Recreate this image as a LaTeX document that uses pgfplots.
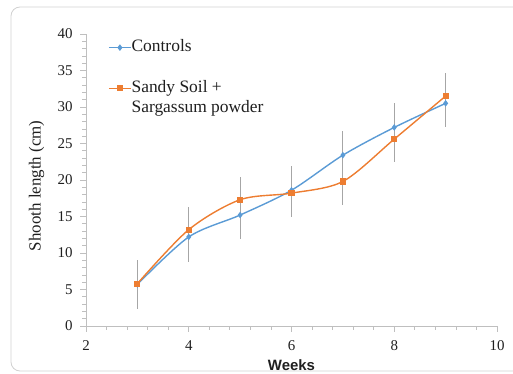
\documentclass[border=0pt]{standalone}
\usepackage{pgfplots}
\pgfplotsset{compat=1.18}
\usepackage{fontspec}
\setmainfont{Liberation Serif}
\newfontfamily\arialfont{Liberation Sans}
\definecolor{cblue}{HTML}{5B9BD5}
\definecolor{corange}{HTML}{ED7D31}
\definecolor{axgray}{HTML}{BFBFBF}
\definecolor{errgray}{HTML}{A6A6A6}
\begin{document}
\begin{tikzpicture}
\useasboundingbox (0bp,0bp) rectangle (513bp,374bp);
\draw[black!18, line width=0.8bp, rounded corners=9bp] (11bp,3bp) rectangle (560bp,367bp);
\begin{axis}[
  at={(86bp,48bp)}, anchor=south west,
  scale only axis, width=411bp, height=292bp,
  xmin=2, xmax=10, ymin=0, ymax=40,
  xtick={2,4,6,8,10}, ytick={0,5,10,15,20,25,30,35,40},
  minor x tick num=4, minor y tick num=4,
  axis x line*=bottom, axis y line*=left,
  axis line style={axgray, line width=0.8bp, -},
  tick style={axgray, line width=0.8bp},
  tick align=outside,
  major tick length=5.5bp, minor tick length=3.5bp,
  ticklabel style={font=\fontsize{15}{17}\selectfont, text=black!88},
  xticklabel style={yshift=-6bp},
  yticklabel style={xshift=-4.5bp},
  /pgf/number format/assume math mode=true,
  xlabel={Weeks},
  ylabel={Shooth length (cm)},
  every axis x label/.style={at={(axis description cs:0.5,-0.134)}, anchor=center, font=\arialfont\bfseries\fontsize{15}{17}\selectfont, text=black!88},
  every axis y label/.style={at={(axis description cs:-0.12,0.48)}, anchor=center, rotate=90, font=\fontsize{17}{19}\selectfont, text=black!88},
  legend style={at={(axis description cs:0.0535,0.978)}, anchor=north west, draw=none, fill=none, inner sep=0pt, row sep=6.3bp, font=\fontsize{17.5}{19}\selectfont, text=black!88, nodes={inner sep=0pt, text height=11bp, text depth=3bp}},
  legend cell align=left,
  legend image code/.code={\draw[mark repeat=2,mark phase=2,#1] plot coordinates {(0bp,0bp)(11bp,0bp)(22bp,0bp)};},
]
\addplot[cblue, line width=1.4bp, smooth, mark=diamond*, mark size=2.2bp, mark options={solid, fill=cblue},
  error bars/.cd, y dir=both, y explicit, error mark=none, error bar style={errgray, line width=1bp}]
  coordinates {(3,5.7) +- (0,3.4) (4,12.2) +- (0,3.4) (5,15.2) +- (0,3.3) (6,18.6) +- (0,3.3) (7,23.4) +- (0,3.3) (8,27.2) +- (0,3.4) (9,30.5) +- (0,3.3)};
\addlegendentry{Controls}
\addlegendimage{empty legend}
\addlegendentry{}
\addplot[corange, line width=1.4bp, smooth, mark=square*, mark size=2.4bp, mark options={solid, fill=corange},
  error bars/.cd, y dir=both, y explicit, error mark=none, error bar style={errgray, line width=1bp}]
  coordinates {(3,5.8) +- (0,3.2) (4,13.2) +- (0,3.1) (5,17.3) +- (0,3.1) (6,18.2) +- (0,3.2) (7,19.8) +- (0,3.2) (8,25.6) +- (0,3.2) (9,31.5) +- (0,3.1)};
\addlegendentry{Sandy Soil +}
\addlegendimage{empty legend}
\addlegendentry{Sargassum powder}
\end{axis}
\end{tikzpicture}
\end{document}
